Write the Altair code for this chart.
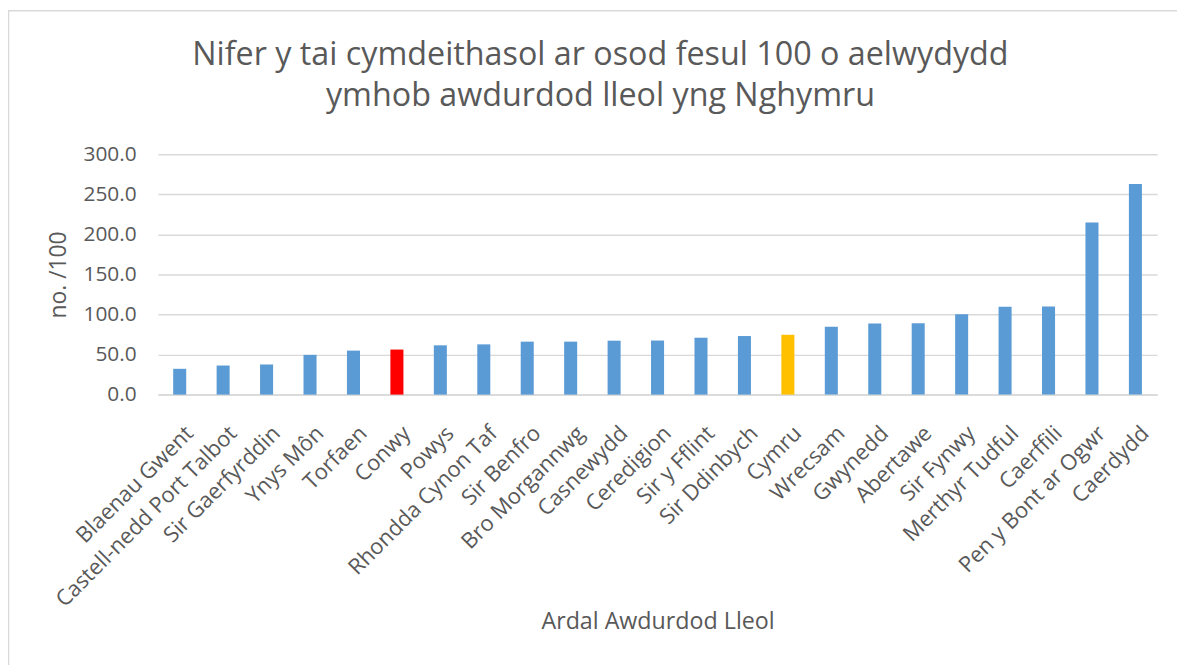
import altair as alt
import pandas as pd

categories = [
    "Blaenau Gwent", "Castell-nedd Port Talbot", "Sir Gaerfyrddin", "Ynys Môn",
    "Torfaen", "Conwy", "Powys", "Rhondda Cynon Taf", "Sir Benfro",
    "Bro Morgannwg", "Casnewydd", "Ceredigion", "Sir y Fflint", "Sir Ddinbych",
    "Cymru", "Wrecsam", "Gwynedd", "Abertawe", "Sir Fynwy", "Merthyr Tudful",
    "Caerffili", "Pen y Bont ar Ogwr", "Caerdydd",
]
values = [
    32.2, 36.3, 37.6, 49.6, 54.9, 56.2, 61.5, 62.7, 66.1, 66.1, 67.3, 67.5,
    71.0, 73.1, 74.7, 84.7, 88.8, 89.2, 100.4, 109.5, 109.9, 214.8, 262.8,
]
highlight = {"Conwy": "#ff0000", "Cymru": "#ffc000"}
base_color = "#5b9bd5"
y_ticks = [0, 50, 100, 150, 200, 250, 300]

df = pd.DataFrame({
    "area": categories,
    "value": values,
    "color": [highlight.get(c, base_color) for c in categories],
})

TEXT = "#595959"
FONT = "Open Sans"
W, H = 1006, 242

bars = alt.Chart(df).mark_bar().encode(
    x=alt.X(
        "area:N",
        sort=categories,
        scale=alt.Scale(paddingInner=0.7, paddingOuter=0.35),
        axis=alt.Axis(
            title="Ardal Awdurdod Lleol",
            labelAngle=-45,
            labelAlign="right",
            labelBaseline="middle",
            labelOffset=10,
            labelPadding=35,
            labelLimit=0,
            labelFontSize=22,
            ticks=False,
            tickSize=0,
            domainColor="#d9d9d9",
            domainWidth=1.5,
            titleFontSize=23.4,
            titleY=236,
            titleBaseline="alphabetic",
        ),
    ),
    y=alt.Y(
        "value:Q",
        scale=alt.Scale(domain=[0, 300], nice=False),
        axis=alt.Axis(
            title="no. /100",
            values=y_ticks,
            format=".1f",
            grid=True,
            gridColor="#d9d9d9",
            gridWidth=1.5,
            domain=False,
            ticks=False,
            tickSize=0,
            labelPadding=22,
            labelFontSize=21,
            titleFontSize=23,
            titleX=-93,
            titleBaseline="alphabetic",
        ),
    ),
    color=alt.Color("color:N", scale=None, legend=None),
)

border = alt.Chart(alt.Data(values=[{}])).mark_rect(
    fillOpacity=0, stroke="#d9d9d9", strokeWidth=1.5
).encode(
    x=alt.value(-150.5), x2=alt.value(W + 200),
    y=alt.value(-144.5), y2=alt.value(H + 400),
)

chart = alt.layer(border, bars).properties(
    width=W,
    height=H,
    autosize="none",
    padding={"left": 151, "top": 145, "right": 20, "bottom": 270},
    title=alt.TitleParams(
        text=["Nifer y tai cymdeithasol ar osod fesul 100 o aelwydydd",
              "ymhob awdurdod lleol yng Nghymru"],
        font=FONT,
        fontSize=32.5,
        fontWeight="normal",
        color=TEXT,
        anchor="middle",
        baseline="bottom",
        dx=-57.5,
        lineHeight=41,
        offset=-136,
    ),
).configure_view(stroke=None).configure_axis(
    labelFont=FONT,
    titleFont=FONT,
    labelColor=TEXT,
    titleColor=TEXT,
    titleFontWeight="normal",
)

chart.save("out.html", embed_options={"renderer": "svg", "actions": False})
